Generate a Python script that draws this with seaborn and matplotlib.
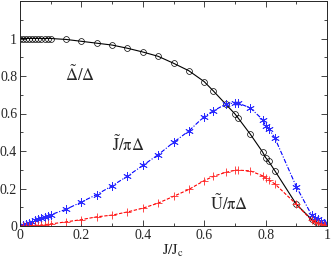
import matplotlib
matplotlib.use("Agg")
import matplotlib.pyplot as plt
import seaborn as sns
import numpy as np
from matplotlib.ticker import MultipleLocator, FixedLocator

x_vals = [0.0, 0.01, 0.02, 0.03, 0.04, 0.05, 0.06, 0.07, 0.08, 0.09, 0.10,
          0.15, 0.20, 0.25, 0.30, 0.35, 0.40, 0.45, 0.50, 0.55, 0.60, 0.63,
          0.67, 0.70, 0.71, 0.75, 0.79, 0.80, 0.81, 0.83, 0.90, 0.95, 0.96,
          0.97, 0.98, 0.99, 0.995, 1.0]
delta_vals = [1.0, 1.0, 1.0, 1.0, 1.0, 1.0, 1.0, 1.0, 1.0, 1.0, 1.0,
              0.995, 0.985, 0.975, 0.965, 0.948, 0.928, 0.905, 0.868, 0.828, 0.77, 0.72,
              0.65, 0.598, 0.577, 0.49, 0.395, 0.365, 0.345, 0.295, 0.116, 0.035, 0.026,
              0.018, 0.011, 0.005, 0.003, 0.001]
j_vals = [0.0, 0.006, 0.012, 0.018, 0.024, 0.03, 0.036, 0.042, 0.048, 0.054, 0.06,
          0.089, 0.128, 0.168, 0.214, 0.266, 0.323, 0.38, 0.446, 0.507, 0.584, 0.614,
          0.65, 0.656, 0.656, 0.63, 0.568, 0.535, 0.52, 0.47, 0.21, 0.058, 0.045,
          0.035, 0.025, 0.015, 0.009, 0.003]
u_vals = [0.0, 0.0001, 0.0005, 0.001, 0.002, 0.003, 0.004, 0.005, 0.007, 0.009, 0.011,
          0.022, 0.034, 0.049, 0.058, 0.075, 0.095, 0.122, 0.158, 0.195, 0.242, 0.265,
          0.286, 0.297, 0.298, 0.294, 0.268, 0.256, 0.246, 0.225, 0.116, 0.03, 0.022,
          0.015, 0.009, 0.004, 0.002, 0.001]
x_ticks = [0, 0.2, 0.4, 0.6, 0.8, 1.0]
x_tick_labels = ["0", "0.2", "0.4", "0.6", "0.8", "1"]
y_ticks = [0, 0.2, 0.4, 0.6, 0.8, 1.0]
y_tick_labels = ["0", "0.2", "0.4", "0.6", "0.8", "1"]

sns.set_style("ticks")
plt.rcParams['font.family'] = ['Liberation Serif', 'DejaVu Serif']
plt.rcParams['mathtext.fontset'] = 'stix'

fig = plt.figure(figsize=(3.32, 2.58), dpi=100)
ax = fig.add_axes([20/332, 1 - 226/258, 307/332, 225/258])

sns.lineplot(x=x_vals, y=delta_vals, ax=ax, color='black', lw=0.8,
             marker='o', markersize=4.2, markerfacecolor='none',
             markeredgecolor='black', markeredgewidth=0.5,
             estimator=None, sort=False)
sns.lineplot(x=x_vals, y=j_vals, ax=ax, color='blue', lw=0.8,
             marker=(6, 2, 0), markersize=6, markeredgecolor='#2a2aff',
             markeredgewidth=0.6, dashes=False, estimator=None, sort=False)
ax.lines[-1].set_dashes([4, 1.5, 1, 1.5])
sns.lineplot(x=x_vals, y=u_vals, ax=ax, color='red', lw=0.8,
             marker='+', markersize=5.5, markeredgecolor='#ff2a2a',
             markeredgewidth=0.6, estimator=None, sort=False)
ax.lines[-1].set_dashes([3, 1.5])

ax.set_xlim(0, 1)
ax.set_ylim(0, 1.2)
ax.xaxis.set_major_locator(FixedLocator(x_ticks))
ax.set_xticklabels(x_tick_labels)
ax.yaxis.set_major_locator(FixedLocator(y_ticks))
ax.set_yticklabels(y_tick_labels)
ax.xaxis.set_minor_locator(MultipleLocator(0.1))
ax.yaxis.set_minor_locator(MultipleLocator(0.1))
ax.tick_params(which='both', direction='in', top=True, right=True,
               labelsize=10, width=0.6, pad=2)
ax.tick_params(which='major', length=4)
ax.tick_params(which='minor', length=2.5)
for s in ax.spines.values():
    s.set_linewidth(0.7)

ax.set_xlabel(r'$\mathrm{J/J_c}$', fontsize=11, labelpad=0.5)
ax.set_ylabel('')

ax.text(0.146, 0.805, r'$\mathrm{\tilde{\Delta}/\Delta}$', fontsize=12, va='center')
ax.text(0.30, 0.43, r'$\mathrm{\tilde{J}/\pi\Delta}$', fontsize=12, va='center')
ax.text(0.62, 0.12, r'$\mathrm{\tilde{U}/\pi\Delta}$', fontsize=12, va='center')

fig.savefig('out.png', dpi=100)
